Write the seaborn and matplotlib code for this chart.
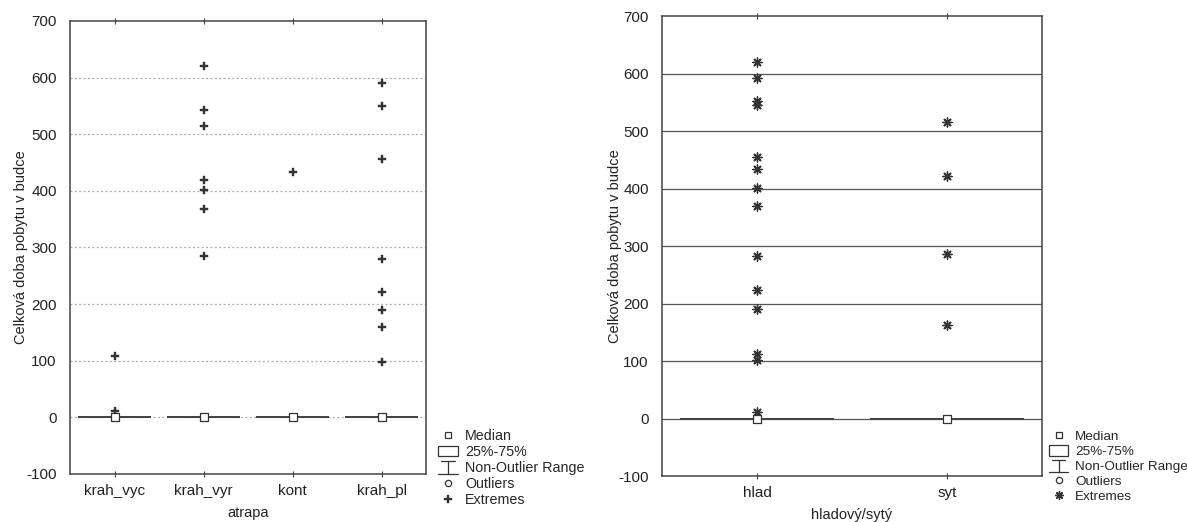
import numpy as np
import pandas as pd
import matplotlib
matplotlib.use("Agg")
import matplotlib.pyplot as plt
import matplotlib.patches as mpatches
from matplotlib.lines import Line2D
from matplotlib.legend_handler import HandlerBase
import seaborn as sns

# ---------------- data ----------------
cats_left = ["krah_vyc", "krah_vyr", "kont", "krah_pl"]
ext_krah_vyc = [109, 12]
ext_krah_vyr = [620, 543, 514, 419, 401, 368, 284]
ext_kont = [433]
ext_krah_pl = [590, 550, 456, 280, 222, 190, 160, 98]
median_left = [0, 0, 0, 0]
q1_left = [0, 0, 0, 0]
q3_left = [0, 0, 0, 0]
whislo_left = [0, 0, 0, 0]
whishi_left = [0, 0, 0, 0]

cats_right = ["hlad", "syt"]
ext_hlad = [620, 592, 552, 545, 455, 434, 401, 369, 282, 224, 190, 112, 102, 12]
ext_syt = [516, 422, 286, 162]
median_right = [0, 0]
q1_right = [0, 0]
q3_right = [0, 0]
whislo_right = [0, 0]
whishi_right = [0, 0]

y_ticks = [-100, 0, 100, 200, 300, 400, 500, 600, 700]
ylabel = "Celková doba pobytu v budce"
xlabel_left = "atrapa"
xlabel_right = "hladový/sytý"
legend_labels = ["Median", "25%-75%", "Non-Outlier Range", "Outliers", "Extremes"]

# ---------------- style ----------------
sns.set_style("white")
plt.rcParams["font.family"] = ["Liberation Sans", "DejaVu Sans"]
DARK = "#333333"

fig = plt.figure(figsize=(11.87, 5.22), dpi=100)
axL = fig.add_axes([0.059, 0.092, 0.300, 0.868])
axR = fig.add_axes([0.5577, 0.088, 0.320, 0.881])


def panel(ax, cats, ext_lists, med, q1, q3, wlo, whi, ext_marker, ext_kw, grid_kw, xlabel, ylpad):
    df = pd.DataFrame({
        "cat": [c for c, vals in zip(cats, ext_lists) for _ in vals],
        "val": [v for vals in ext_lists for v in vals],
    })
    sns.stripplot(data=df, x="cat", y="val", order=cats, jitter=False, ax=ax,
                  marker=ext_marker, zorder=4, **ext_kw)
    stats = [dict(med=m, q1=a, q3=b, whislo=lo, whishi=hi, fliers=[], label=c)
             for c, m, a, b, lo, hi in zip(cats, med, q1, q3, wlo, whi)]
    ax.bxp(stats, positions=range(len(cats)), widths=0.8, showfliers=False,
           boxprops=dict(color="#444444", lw=1.3), whiskerprops=dict(color="#444444", lw=1.1),
           capprops=dict(color="#444444", lw=1.1), medianprops=dict(color="#444444", lw=1.1),
           manage_ticks=False, zorder=3)
    dm = pd.DataFrame({"cat": cats, "val": med})
    sns.stripplot(data=dm, x="cat", y="val", order=cats, jitter=False, ax=ax,
                  marker="s", color="white", edgecolor=DARK, linewidth=0.9, size=6, zorder=5)
    ax.set_xlim(-0.5, len(cats) - 0.5)
    ax.set_ylim(-100, 700)
    ax.set_yticks(y_ticks)
    ax.set_yticklabels([str(t) for t in y_ticks], fontsize=11, color="#222222")
    ax.set_xticks(range(len(cats)))
    ax.set_xticklabels(cats, fontsize=11, color="#222222")
    for t in y_ticks[1:-1]:
        ax.axhline(t, zorder=1, **grid_kw)
    ax.set_xlabel(xlabel, fontsize=10.5, color="#222222", labelpad=6)
    ax.set_ylabel(ylabel, fontsize=10.5, color="#222222", labelpad=ylpad)
    for s in ax.spines.values():
        s.set_visible(True)
        s.set_color("#444444")
        s.set_linewidth(1.1)
    ax.tick_params(axis="x", which="both", bottom=True, top=True, direction="inout",
                   length=4, color="#444444", pad=5)
    ax.tick_params(axis="y", left=False, pad=6)


panel(axL, cats_left, [ext_krah_vyc, ext_krah_vyr, ext_kont, ext_krah_pl],
      median_left, q1_left, q3_left, whislo_left, whishi_left,
      "P", dict(color=DARK, edgecolor=DARK, size=6.2, linewidth=0.3),
      dict(color="#aaaaaa", lw=0.9, ls=(0, (1.5, 2))), xlabel_left, -1)

panel(axR, cats_right, [ext_hlad, ext_syt],
      median_right, q1_right, q3_right, whislo_right, whishi_right,
      (8, 2, 0), dict(color=DARK, edgecolor=DARK, size=6.5, linewidth=1.0),
      dict(color="#555555", lw=0.9, ls="-"), xlabel_right, -3)


class WhiskerHandler(HandlerBase):
    def create_artists(self, legend, orig_handle, xdescent, ydescent, width, height, fontsize, trans):
        cx = width / 2 - xdescent
        top = height * 1.05 - ydescent
        bot = -height * 0.15 - ydescent
        l1 = Line2D([cx - width * 0.35, cx + width * 0.35], [top, top], color=DARK, lw=0.9)
        l2 = Line2D([cx, cx], [top, bot], color=DARK, lw=0.9)
        l3 = Line2D([-xdescent, width - xdescent], [bot, bot], color=DARK, lw=0.9)
        for a in (l1, l2, l3):
            a.set_transform(trans)
        return [l1, l2, l3]


class WhiskerKey:
    pass


def legend_handles(ext_marker, ext_ms, ext_mew):
    return [
        Line2D([], [], ls="none", marker="s", mfc="white", mec=DARK, ms=5, mew=0.9),
        mpatches.Patch(facecolor="white", edgecolor=DARK, lw=0.9),
        WhiskerKey(),
        Line2D([], [], ls="none", marker="o", mfc="white", mec=DARK, ms=4.5, mew=0.9),
        Line2D([], [], ls="none", marker=ext_marker, mfc=DARK, mec=DARK, ms=ext_ms, mew=ext_mew),
    ]


leg_kw = dict(loc="lower left", frameon=False, handlelength=1.4,
              handleheight=0.8, handletextpad=0.5, labelspacing=0.15, borderpad=0,
              borderaxespad=0, handler_map={WhiskerKey: WhiskerHandler()})
fig.legend(legend_handles("P", 6.2, 0.3), legend_labels, fontsize=10.3,
           bbox_to_anchor=(0.369, 0.028), **leg_kw)
fig.legend(legend_handles((8, 2, 0), 6, 1.0), legend_labels, fontsize=9.7,
           bbox_to_anchor=(0.884, 0.037), **leg_kw)

fig.savefig("out.png", dpi=100)
